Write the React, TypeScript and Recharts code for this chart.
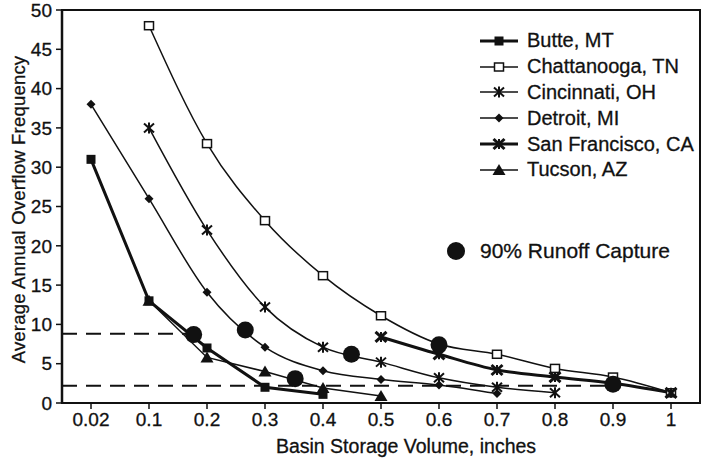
import React from 'react';
import { ComposedChart, Line, XAxis, YAxis, ReferenceLine, ReferenceArea, Legend } from 'recharts';

const basinLabels = ['0.02', '0.1', '0.2', '0.3', '0.4', '0.5', '0.6', '0.7', '0.8', '0.9', '1'];
const yTicks = [0, 5, 10, 15, 20, 25, 30, 35, 40, 45, 50];

const butte = [31, 13, 7, 2, 1.1, null, null, null, null, null, null];
const chattanooga = [null, 48, 33, 23.2, 16.2, 11.1, 7.5, 6.2, 4.4, 3.3, 1.3];
const cincinnati = [null, 35, 22, 12.2, 7.1, 5.2, 3.2, 2.0, 1.3, null, null];
const detroit = [38, 26, 14.1, 7.1, 4.1, 3.0, 2.3, 1.2, null, null, null];
const sanFrancisco = [null, null, null, null, null, 8.4, 6.2, 4.2, 3.3, 2.5, 1.3];
const tucson = [null, 13, 5.8, 4.0, 1.9, 0.9, null, null, null, null, null];

// 90% runoff capture points sit between the basin sizes
const captureAt = [1.77, 2.66, 3.52, 4.49, 6, 9];
const captureFreq = [8.7, 9.3, 3.1, 6.2, 7.4, 2.4];

const upperDash = 8.8;
const lowerDash = 2.2;

const ink = '#111';
const font = '"Liberation Sans", Arial, sans-serif';

const series = [
  { key: 'butte', name: 'Butte, MT', values: butte, marker: 'fsquare', width: 3, curve: 'linear' },
  { key: 'chattanooga', name: 'Chattanooga, TN', values: chattanooga, marker: 'osquare', width: 1.5, curve: 'monotone' },
  { key: 'cincinnati', name: 'Cincinnati, OH', values: cincinnati, marker: 'asterisk', width: 1.5, curve: 'monotone' },
  { key: 'detroit', name: 'Detroit, MI', values: detroit, marker: 'diamond', width: 1.5, curve: 'monotone' },
  { key: 'sanFrancisco', name: 'San Francisco, CA', values: sanFrancisco, marker: 'bowtie', width: 3, curve: 'monotone' },
  { key: 'tucson', name: 'Tucson, AZ', values: tucson, marker: 'triangle', width: 1.5, curve: 'linear' },
];

const rows = basinLabels.map((label, i) => {
  const row: Record<string, any> = { idx: i, label };
  series.forEach(s => { row[s.key] = s.values[i]; });
  return row;
});

const captureRows = captureAt.map((x, i) => ({ idx: x, capture: captureFreq[i] }));

function Marker({ kind, cx, cy }: { kind: string; cx: number; cy: number }) {
  switch (kind) {
    case 'fsquare':
      return <rect x={cx - 4.5} y={cy - 4.5} width={9} height={9} fill={ink} />;
    case 'osquare':
      return <rect x={cx - 4.5} y={cy - 4} width={9} height={8} fill="#fff" stroke={ink} strokeWidth={1.5} />;
    case 'asterisk':
      return (
        <g stroke={ink} strokeWidth={2}>
          <line x1={cx - 5} y1={cy - 4.5} x2={cx + 5} y2={cy + 4.5} />
          <line x1={cx - 5} y1={cy + 4.5} x2={cx + 5} y2={cy - 4.5} />
          <line x1={cx} y1={cy - 5.5} x2={cx} y2={cy + 5.5} />
        </g>
      );
    case 'diamond':
      return <path d={`M${cx},${cy - 4.5}L${cx + 4.5},${cy}L${cx},${cy + 4.5}L${cx - 4.5},${cy}Z`} fill={ink} />;
    case 'bowtie':
      return (
        <g stroke={ink}>
          <line x1={cx - 5.5} y1={cy - 5} x2={cx + 5.5} y2={cy + 5} strokeWidth={3} />
          <line x1={cx - 5.5} y1={cy + 5} x2={cx + 5.5} y2={cy - 5} strokeWidth={3} />
          <line x1={cx} y1={cy - 5} x2={cx} y2={cy + 5} strokeWidth={2} />
        </g>
      );
    case 'triangle':
      return <path d={`M${cx},${cy - 6}L${cx + 6.5},${cy + 5}L${cx - 6.5},${cy + 5}Z`} fill={ink} />;
    case 'circle':
      return <circle cx={cx} cy={cy} r={8.5} fill={ink} />;
    default:
      return null;
  }
}

const makeDot = (kind: string) => (props: any) => {
  const { cx, cy, value, index } = props;
  const k = `${kind}-${index}`;
  if (cx == null || cy == null || value == null) return <g key={k} />;
  return (
    <g key={k}>
      <Marker kind={kind} cx={cx} cy={cy} />
    </g>
  );
};

function LegendBox() {
  return (
    <div style={{ fontFamily: font, fontSize: 20, color: ink, WebkitTextStroke: '0.3px #111' }}>
      {series.map(s => (
        <div key={s.key} style={{ display: 'flex', alignItems: 'center', height: 25.8, paddingLeft: 32 }}>
          <svg width={42} height={16} style={{ marginRight: 7 }}>
            <line x1={2} y1={8} x2={40} y2={8} stroke={ink} strokeWidth={s.width} />
            <Marker kind={s.marker} cx={21} cy={8} />
          </svg>
          <span>{s.name}</span>
        </div>
      ))}
      <div style={{ display: 'flex', alignItems: 'center', height: 26, marginTop: 55 }}>
        <svg width={20} height={20} style={{ marginRight: 14 }}>
          <circle cx={10} cy={10} r={9} fill={ink} />
        </svg>
        <span style={{ fontSize: 21 }}>90% Runoff Capture</span>
      </div>
    </div>
  );
}

const YLabel = (props: any) => {
  const { viewBox } = props;
  const x = viewBox.x + 18;
  const y = viewBox.y + viewBox.height / 2 + 3;
  return (
    <text
      x={x}
      y={y}
      transform={`rotate(-90, ${x}, ${y})`}
      textAnchor="middle"
      dominantBaseline="central"
      fontFamily={font}
      fontSize={18.5}
      letterSpacing={0.2}
      fill={ink}
      stroke={ink}
      strokeWidth={0.3}
    >
      Average Annual Overflow Frequency
    </text>
  );
};

const tickStyle = { fill: ink, fontSize: 19, fontFamily: font, stroke: ink, strokeWidth: 0.3 };

export default function App() {
  return (
    <div style={{ position: 'absolute', left: 0, top: 0, width: 705, height: 467, background: '#fff' }}>
      <ComposedChart width={705} height={467} data={rows} margin={{ top: 10, right: 5, left: 0, bottom: 0 }}>
        <XAxis
          dataKey="idx"
          type="number"
          domain={[-0.5, 10.5]}
          ticks={basinLabels.map((_, i) => i)}
          tickFormatter={(v: number) => basinLabels[v]}
          interval={0}
          height={64}
          axisLine={{ stroke: ink, strokeWidth: 2 }}
          tickLine={{ stroke: ink, strokeWidth: 1.5 }}
          tickSize={6}
          tickMargin={4}
          tick={tickStyle}
          label={{ value: 'Basin Storage Volume, inches', position: 'insideBottom', offset: 14, dx: 25, fill: ink, fontSize: 19.5, fontFamily: font, stroke: ink, strokeWidth: 0.3 }}
        />
        <YAxis
          type="number"
          domain={[0, 50]}
          ticks={yTicks}
          interval={0}
          width={62}
          axisLine={{ stroke: ink, strokeWidth: 2.5 }}
          tickLine={{ stroke: ink, strokeWidth: 1.5 }}
          tickSize={6}
          tickMargin={4}
          tick={tickStyle}
          label={<YLabel />}
        />
        <ReferenceArea x1={-0.5} x2={10.5} y1={0} y2={50} fill="none" stroke={ink} strokeWidth={2} />
        <ReferenceLine
          segment={[{ x: -0.5, y: upperDash }, { x: captureAt[0], y: upperDash }]}
          stroke={ink}
          strokeWidth={2}
          strokeDasharray="15 9"
        />
        <ReferenceLine
          segment={[{ x: -0.5, y: lowerDash }, { x: captureAt[5], y: lowerDash }]}
          stroke={ink}
          strokeWidth={2}
          strokeDasharray="15 9"
        />
        {series.map(s => (
          <Line
            key={s.key}
            dataKey={s.key}
            name={s.name}
            type={s.curve as any}
            stroke={ink}
            strokeWidth={s.width}
            dot={makeDot(s.marker)}
            activeDot={false}
            isAnimationActive={false}
          />
        ))}
        <Line
          data={captureRows}
          dataKey="capture"
          name="90% Runoff Capture"
          stroke="none"
          dot={makeDot('circle')}
          activeDot={false}
          isAnimationActive={false}
        />
        <Legend
          layout="vertical"
          align="center"
          verticalAlign="middle"
          content={<LegendBox />}
          wrapperStyle={{ position: 'absolute', left: 446, top: 28, width: 259 }}
        />
      </ComposedChart>
    </div>
  );
}
